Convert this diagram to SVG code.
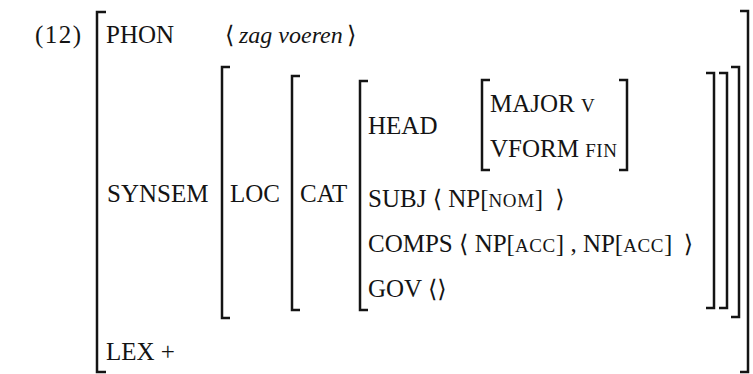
<svg xmlns="http://www.w3.org/2000/svg" width="753" height="374" viewBox="0 0 753 374">
  <style>
    text { font-family: "Liberation Serif", "DejaVu Serif", serif; font-size: 25px; fill: #141414; }
    .sc { font-size: 19px; letter-spacing: 0.6px; }
    .it { font-style: italic; font-size: 24px; }
    .ang { font-family: "DejaVu Serif", "Liberation Serif", serif; font-size: 24px; letter-spacing: 0; }
    .br { fill: none; stroke: #141414; stroke-width: 2.5; stroke-linecap: butt; stroke-linejoin: miter; }
  </style>
  <rect width="753" height="374" fill="#ffffff"/>

  <!-- example number -->
  <text id="exnum" x="35" y="43" textLength="46" lengthAdjust="spacing">(12)</text>

  <!-- attribute-value matrix brackets, outermost to innermost -->
  <g id="brackets">
    <path class="br" d="M106,12 H97 V372 H106"/>
    <path class="br" d="M740,11 H748 V372 H740"/>
    <path class="br" d="M230,67 H222 V318 H230"/>
    <path class="br" d="M731,67 H739 V317 H731"/>
    <path class="br" d="M300,76 H292 V310 H300"/>
    <path class="br" d="M719,73 H727 V308 H719"/>
    <path class="br" d="M368,81 H360 V310 H368"/>
    <path class="br" d="M706,73 H714 V308 H706"/>
    <path class="br" d="M490,80 H482 V170 H490"/>
    <path class="br" d="M619,80 H627 V170 H619"/>
  </g>

  <!-- top level -->
  <g id="phon">
    <text x="106" y="43">PHON</text>
    <text class="ang" x="225" y="43">⟨</text>
    <text class="it" x="239" y="43">zag voeren</text>
    <text class="ang" x="347" y="43">⟩</text>
  </g>
  <g id="synsem">
    <text x="107" y="202">SYNSEM</text>
  </g>
  <g id="loc">
    <text x="230" y="202">LOC</text>
  </g>
  <g id="cat">
    <text x="300" y="202">CAT</text>
  </g>

  <!-- CAT value -->
  <g id="head">
    <text x="368" y="134">HEAD</text>
    <text x="490" y="112">MAJOR <tspan class="sc">V</tspan></text>
    <text x="490" y="157">VFORM <tspan class="sc">FIN</tspan></text>
  </g>
  <g id="subj">
    <text x="368" y="207">SUBJ <tspan class="ang">⟨</tspan> NP[<tspan class="sc">NOM</tspan>] <tspan class="ang" dx="6">⟩</tspan></text>
  </g>
  <g id="comps">
    <text x="368" y="252">COMPS <tspan class="ang">⟨</tspan> NP[<tspan class="sc">ACC</tspan>] , NP[<tspan class="sc">ACC</tspan>] <tspan class="ang" dx="5">⟩</tspan></text>
  </g>
  <g id="gov">
    <text x="368" y="297">GOV <tspan class="ang">⟨⟩</tspan></text>
  </g>

  <g id="lex">
    <text x="106" y="360">LEX +</text>
  </g>
</svg>
